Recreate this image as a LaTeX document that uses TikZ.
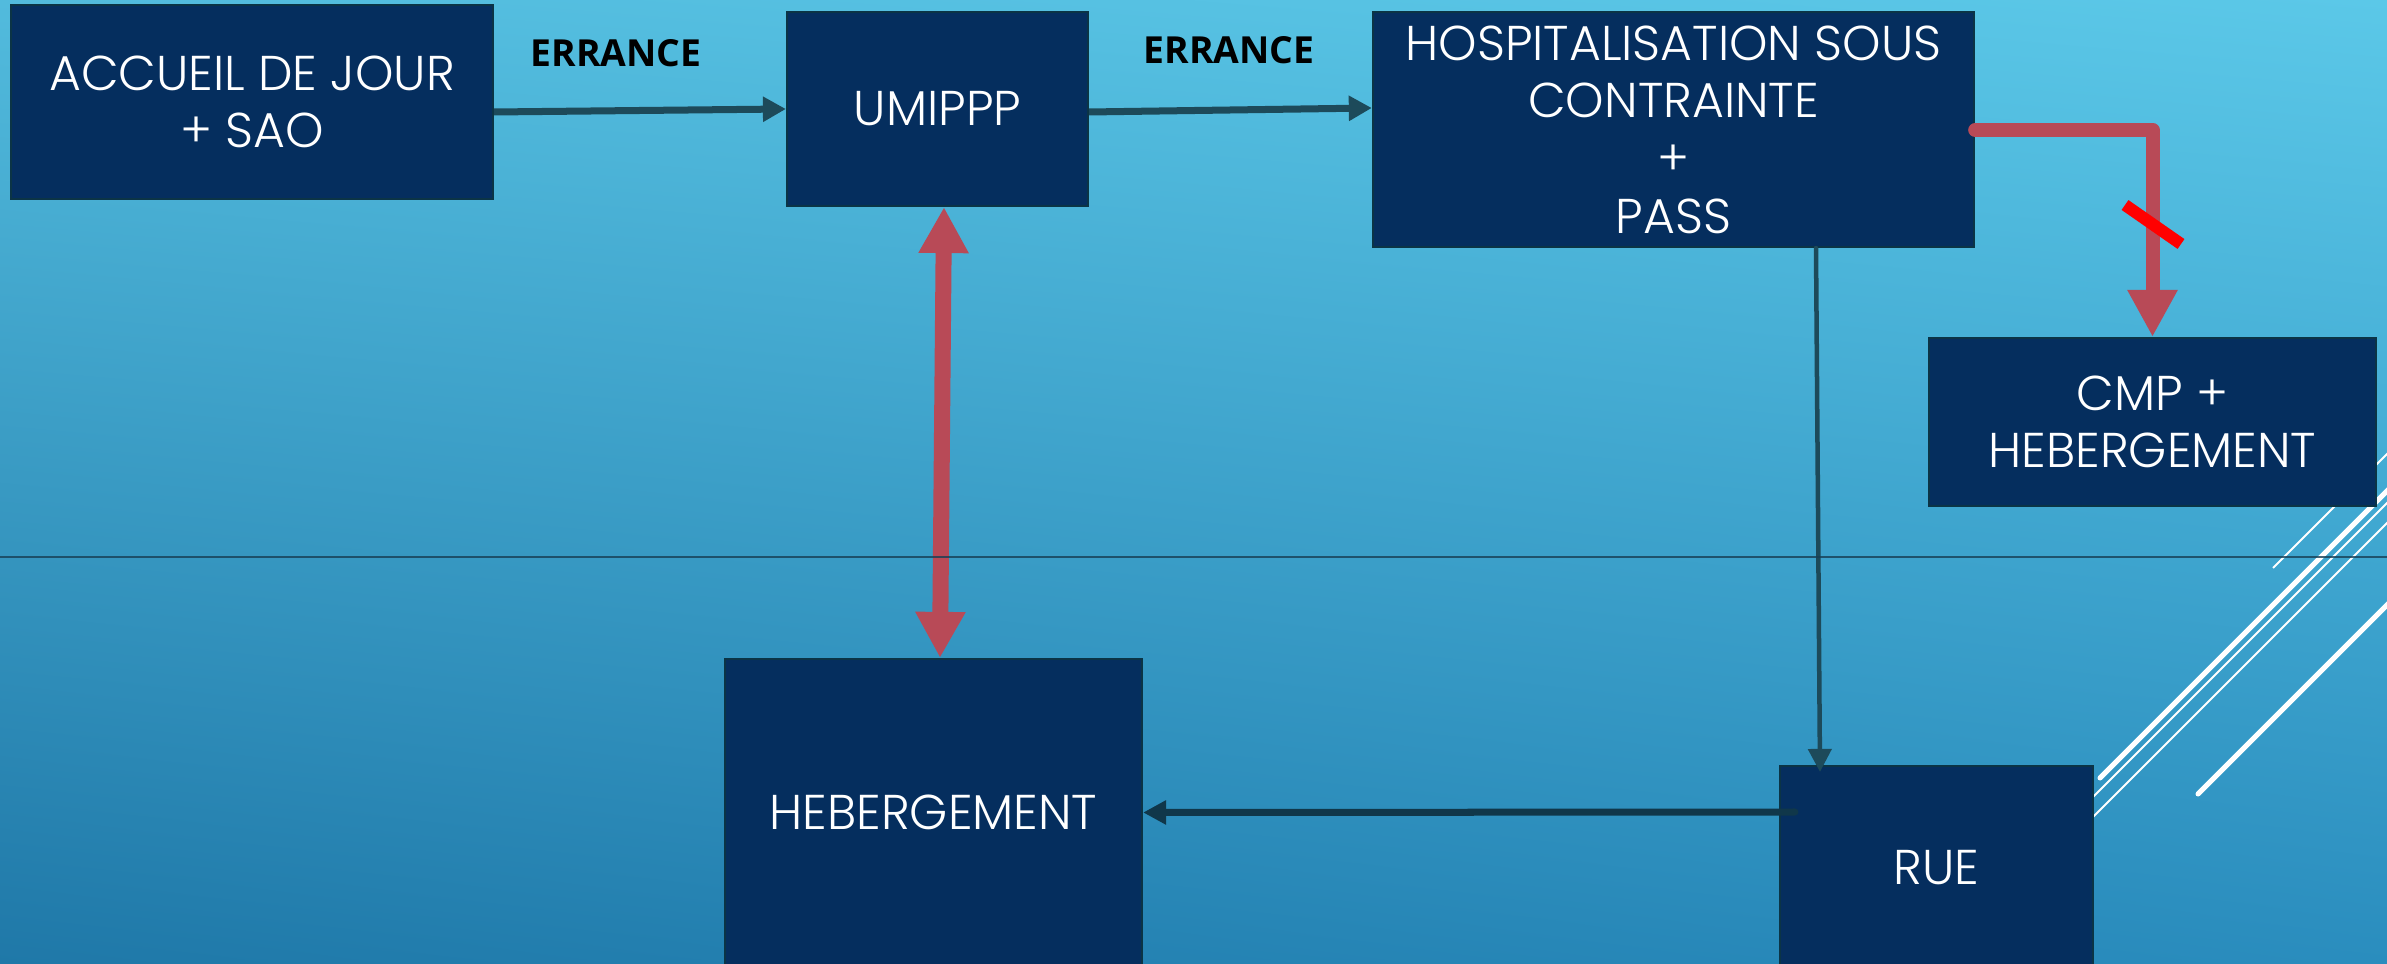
\documentclass[tikz,border=0pt]{standalone}
\usepackage{fontspec}
\IfFontExistsTF{Poppins Light}{\setmainfont{Poppins Light}}{\setmainfont{Poppins}}
\newfontfamily\lblfont{Open Sans}
\usetikzlibrary{arrows.meta,calc,shadings}
\definecolor{bgTL}{HTML}{52BBDD}
\definecolor{bgTR}{HTML}{5BC8E8}
\definecolor{bgBL}{HTML}{1F78A8}
\definecolor{bgBR}{HTML}{2A8DBE}
\definecolor{boxfill}{HTML}{052E5E}
\definecolor{boxline}{HTML}{0B3446}
\definecolor{darkarr}{HTML}{1D4A5A}
\definecolor{darkarrb}{HTML}{10374A}
\definecolor{redarr}{HTML}{B84A57}
\definecolor{hlinecol}{HTML}{173F55}
\begin{document}
\begin{tikzpicture}[x=0.01cm,y=-0.01cm,
  box/.style={draw=boxline, line width=0.02cm, fill=boxfill, text=white, inner sep=0pt, align=center,
    font=\fontsize{13.9}{16.4}\selectfont},
  lbl/.style={inner sep=0pt, text=black, font=\lblfont\bfseries\fontsize{10.6}{13}\selectfont},
  darkarrow/.style={draw=darkarr, line width=0.07cm, -{Triangle[width=0.24cm,length=0.23cm]}},
  darkthin/.style={draw=darkarr, line width=0.045cm, line cap=round, -{Triangle[width=0.23cm,length=0.23cm]}},
  redarrow/.style={draw=redarr, line width=0.16cm},
  whitethin/.style={draw=white, line width=0.02cm},
  whitethick/.style={draw=white, line width=0.05cm, line cap=round}]
\useasboundingbox (0,0) rectangle (2387,964);
\begin{scope}
\clip (0,0) rectangle (2387,964);
\shade[upper left=bgTL, upper right=bgTR, lower left=bgBL, lower right=bgBR] (0,0) rectangle (2387,964);
% decorative white lines
\draw[whitethin] (2273,568) -- (2400,441);
\draw[whitethick] (2100,778) -- (2400,478);
\draw[whitethin] (2080,810) -- (2400,490);
\draw[whitethin] (2080,830) -- (2400,510);
\draw[whitethick] (2198,794) -- (2400,592);
% boxes
\node[box, minimum width=4.82cm, minimum height=1.94cm] (acc) at (252,102) {ACCUEIL DE JOUR\\+ SAO};
\node[box, minimum width=3.01cm, minimum height=1.94cm] (umi) at (937.5,109) {UMIPPP};
\node[box, minimum width=6.01cm, minimum height=2.35cm] (hosp) at (1673.5,129.5) {HOSPITALISATION SOUS\\CONTRAINTE\\+\\PASS};
\node[box, minimum width=4.47cm, minimum height=1.68cm] (cmp) at (2152.5,422) {CMP +\\HEBERGEMENT};
\node[box, minimum width=4.17cm, minimum height=3.07cm] (heb) at (933.5,812.5) {HEBERGEMENT};
\node[box, minimum width=3.13cm, minimum height=2.04cm] (rue) at (1936.5,868) {RUE};
% labels
\node[lbl] (e1) at (616,53) {ERRANCE};
\node[lbl] (e2) at (1229,50) {ERRANCE};
% dark arrows
\draw[darkarrow] ($(acc.east)+(0,10)$) -- (umi.west);
\draw[darkarrow] ($(umi.east)+(0,3)$) -- ($(hosp.west)+(0,-21.5)$);
\draw[darkthin] ($(hosp.south)+(142.5,0)$) -- ($(rue.north)+(-116.5,7)$);
\draw[draw=darkarrb, line width=0.07cm, line cap=round, -{Triangle[width=0.23cm,length=0.23cm]}] ($(rue.west)+(16,-56)$) -- (heb.east);
% red arrows
\draw[redarrow, {Triangle[width=0.47cm,length=0.46cm]}-{Triangle[width=0.47cm,length=0.46cm]}] ($(umi.south)+(6.5,0)$) -- ($(heb.north)+(6.5,0)$);
\draw[draw=redarr, line width=0.14cm, line cap=round, line join=round, -{Triangle[width=0.47cm,length=0.47cm]}] ($(hosp.east)+(0,0.5)$) -| (cmp.north);
\draw[red, line width=0.12cm] (2125,205) -- (2181,244);
% horizontal line
\draw[hlinecol, line width=0.025cm, opacity=0.8] (0,557) -- (2387,557);
\end{scope}
\end{tikzpicture}
\end{document}
